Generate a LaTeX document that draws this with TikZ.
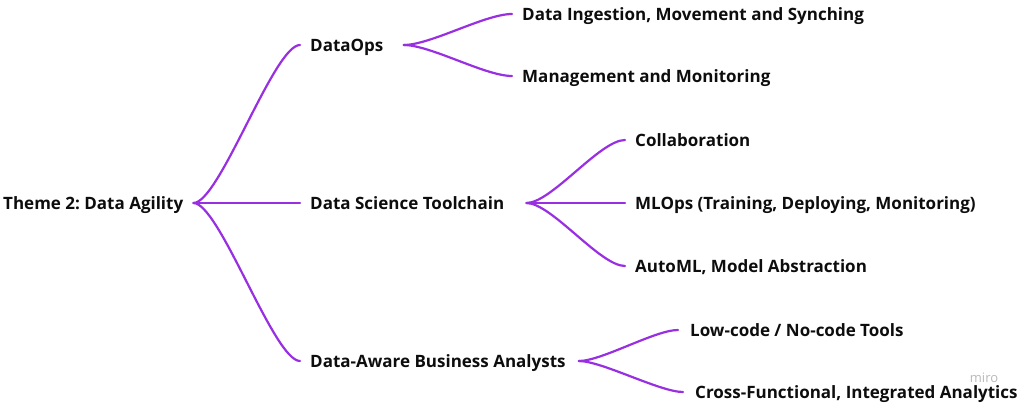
\documentclass[tikz,border=0pt]{standalone}
\usepackage{fontspec}
\setmainfont{Open Sans}
\frenchspacing
\definecolor{edgepurple}{RGB}{152,48,226}
\definecolor{watermark}{RGB}{185,185,185}
\begin{document}
\begin{tikzpicture}[x=1pt,y=-1pt,
  lbl/.style={font=\bfseries\fontsize{17}{20}\selectfont, anchor=west, inner sep=0pt, text height=12pt, text depth=0pt, text=black!95},
  link/.style={draw=edgepurple, line width=2.2pt, line cap=round}]
\useasboundingbox (0,0) rectangle (1024,407);
% nodes
\node[lbl] (root) at (3,203) {Theme 2: Data Agility};
\node[lbl] (ops)  at (310,45) {DataOps};
\node[lbl] (dst)  at (310,203) {Data Science Toolchain};
\node[lbl] (dab)  at (310,361) {Data-Aware Business Analysts};
\node[lbl] (ing)  at (522,14) {Data Ingestion, Movement and Synching};
\node[lbl] (mon)  at (522,76) {Management and Monitoring};
\node[lbl] (col)  at (635,140) {Collaboration};
\node[lbl] (mlo)  at (635,203) {MLOps (Training, Deploying, Monitoring)};
\node[lbl] (aml)  at (635,266) {AutoML, Model Abstraction};
\node[lbl] (low)  at (690,330) {Low-code / No-code Tools};
\node[lbl] (cfa)  at (695,392) {Cross-Functional, Integrated Analytics};
\node[font=\fontsize{13}{15}\selectfont, text=watermark, inner sep=0pt] (miro) at (984,378) {miro};
% connectors
\draw[link] ([xshift=10]root.east) .. controls +(26,0) and +(-26,0) .. ([xshift=-10]ops.west);
\draw[link] ([xshift=10]root.east) -- ([xshift=-10]dst.west);
\draw[link] ([xshift=10]root.east) .. controls +(26,0) and +(-26,0) .. ([xshift=-10]dab.west);
\draw[link] ([xshift=20]ops.east) .. controls +(27,0) and +(-27,0) .. ([xshift=-10]ing.west);
\draw[link] ([xshift=20]ops.east) .. controls +(27,0) and +(-27,0) .. ([xshift=-10]mon.west);
\draw[link] ([xshift=22]dst.east) .. controls +(25,0) and +(-25,0) .. ([xshift=-10]col.west);
\draw[link] ([xshift=22]dst.east) -- ([xshift=-10]mlo.west);
\draw[link] ([xshift=22]dst.east) .. controls +(25,0) and +(-25,0) .. ([xshift=-10]aml.west);
\draw[link] ([xshift=13]dab.east) .. controls +(23,0) and +(-23,0) .. ([xshift=-12]low.west);
\draw[link] ([xshift=13]dab.east) .. controls +(23,0) and +(-23,0) .. ([xshift=-12]cfa.west);
\end{tikzpicture}
\end{document}
